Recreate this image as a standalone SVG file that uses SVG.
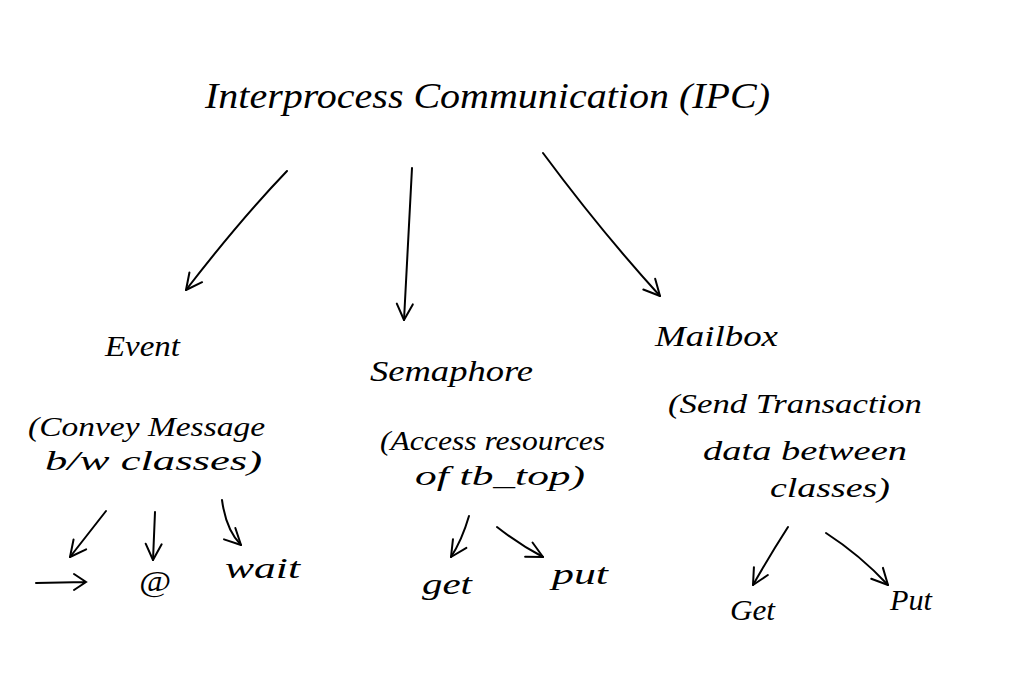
<svg xmlns="http://www.w3.org/2000/svg" width="1010" height="693" viewBox="0 0 1010 693">
<style>
  text { font-family: "Liberation Serif", "DejaVu Serif", serif; font-style: italic; fill: #000; }
  .title { font-size: 36px; }
  .head { font-size: 30px; }
  .desc { font-size: 28px; }
  .leaf { font-size: 30px; }
  .conn path { fill: none; stroke: #000; stroke-width: 2; stroke-linecap: round; marker-end: url(#open); }
  .draw { fill: none; stroke: #000; stroke-width: 2; stroke-linecap: round; }
</style>
<defs>
  <marker id="open" viewBox="0 0 20 20" refX="18" refY="10" markerWidth="20" markerHeight="20" markerUnits="userSpaceOnUse" orient="auto">
    <path d="M2,2 L18,10 L2,18" fill="none" stroke="#000" stroke-width="2" stroke-linecap="round" stroke-linejoin="round"/>
  </marker>
</defs>
<rect width="1010" height="693" fill="#fff"/>

<g id="node-ipc">
  <text class="title" x="205" y="108" textLength="565" lengthAdjust="spacingAndGlyphs">Interprocess Communication (IPC)</text>
</g>

<g id="node-event">
  <text class="head" x="105" y="356" textLength="75" lengthAdjust="spacingAndGlyphs">Event</text>
  <text class="desc" x="28" y="436" textLength="237" lengthAdjust="spacingAndGlyphs">(Convey Message</text>
  <text class="desc" x="45" y="470" textLength="217" lengthAdjust="spacingAndGlyphs">b/w classes)</text>
</g>
<g id="node-semaphore">
  <text class="head" x="370" y="381" textLength="163" lengthAdjust="spacingAndGlyphs">Semaphore</text>
  <text class="desc" x="380" y="450" textLength="225" lengthAdjust="spacingAndGlyphs">(Access resources</text>
  <text class="desc" x="415" y="485" textLength="170" lengthAdjust="spacingAndGlyphs">of tb_top)</text>
</g>
<g id="node-mailbox">
  <text class="head" x="655" y="346" textLength="123" lengthAdjust="spacingAndGlyphs">Mailbox</text>
  <text class="desc" x="668" y="413" textLength="254" lengthAdjust="spacingAndGlyphs">(Send Transaction</text>
  <text class="desc" x="703" y="460" textLength="204" lengthAdjust="spacingAndGlyphs">data between</text>
  <text class="desc" x="770" y="497" textLength="120" lengthAdjust="spacingAndGlyphs">classes)</text>
</g>

<g id="node-trigger">
  <path class="draw" d="M36,583 L86,582 M74,574 L86,582 L74,590"/>
</g>
<g id="node-at">
  <text class="leaf" x="139" y="591" textLength="32" lengthAdjust="spacingAndGlyphs">@</text>
</g>
<g id="node-wait">
  <text class="leaf" x="225" y="578" textLength="75" lengthAdjust="spacingAndGlyphs">wait</text>
</g>
<g id="node-sem-get">
  <text class="leaf" x="422" y="594" textLength="50" lengthAdjust="spacingAndGlyphs">get</text>
</g>
<g id="node-sem-put">
  <text class="leaf" x="552" y="584" textLength="56" lengthAdjust="spacingAndGlyphs">put</text>
</g>
<g id="node-mb-get">
  <text class="leaf" x="730" y="620" textLength="45" lengthAdjust="spacingAndGlyphs">Get</text>
</g>
<g id="node-mb-put">
  <text class="leaf" x="890" y="610" textLength="42" lengthAdjust="spacingAndGlyphs">Put</text>
</g>

<g id="connectors" class="conn">
  <path d="M287,171 Q240,220 186,290"/>
  <path d="M412,168 Q408,240 404,320"/>
  <path d="M543,153 Q600,230 660,296"/>
  <path d="M106,511 L70,557"/>
  <path d="M155,512 L153,560"/>
  <path d="M222,500 Q226,530 241,545"/>
  <path d="M469,516 Q462,540 451,557"/>
  <path d="M497,527 Q520,545 543,557"/>
  <path d="M788,527 Q770,555 753,585"/>
  <path d="M826,533 Q860,555 888,585"/>
</g>
</svg>
